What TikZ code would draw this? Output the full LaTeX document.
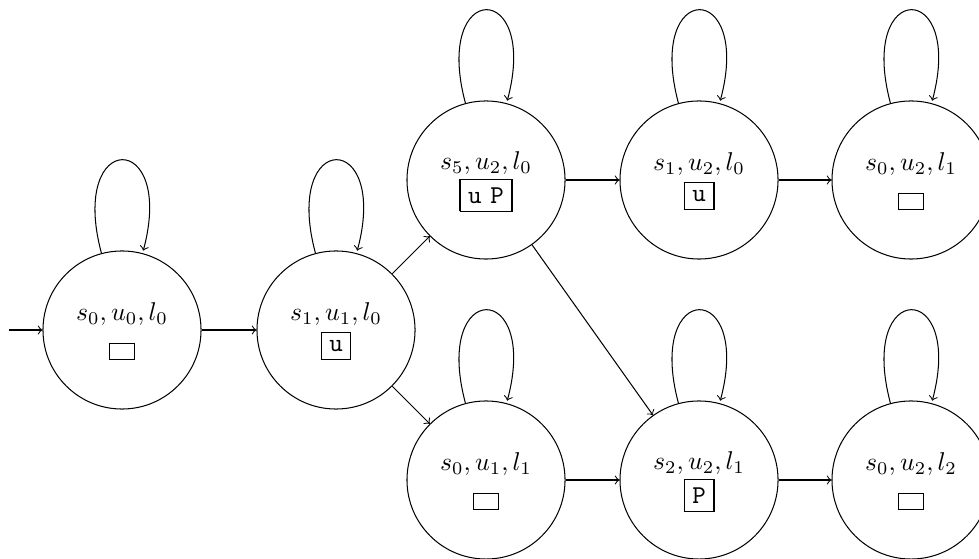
\documentclass[tikz,border=0pt]{standalone}
\begin{document}
\tikzset{
  statenode/.style={circle, draw, minimum size=61.5pt, inner sep=0pt},
  trans/.style={->},
}
\begin{tikzpicture}[x=0.3891pt, y=-0.3891pt]
\useasboundingbox (0,0) rectangle (979,559);
\clip (0,0) rectangle (979,559);
\node[statenode] (A) at (122,330) {\begin{tabular}{c}$s_0, u_0, l_0$\\\fbox{\ }\end{tabular}};
\node[statenode] (B) at (336,330) {\begin{tabular}{c}$s_1, u_1, l_0$\\\fbox{\texttt{u}}\end{tabular}};
\node[statenode] (C) at (486,180) {\begin{tabular}{c}$s_5, u_2, l_0$\\\fbox{\texttt{u} \texttt{P}}\end{tabular}};
\node[statenode] (D) at (699,180) {\begin{tabular}{c}$s_1, u_2, l_0$\\\fbox{\texttt{u}}\end{tabular}};
\node[statenode] (E) at (911,180) {\begin{tabular}{c}$s_0, u_2, l_1$\\\fbox{\ }\end{tabular}};
\node[statenode] (F) at (486,480) {\begin{tabular}{c}$s_0, u_1, l_1$\\\fbox{\ }\end{tabular}};
\node[statenode] (G) at (699,480) {\begin{tabular}{c}$s_2, u_2, l_1$\\\fbox{\texttt{P}}\end{tabular}};
\node[statenode] (H) at (911,480) {\begin{tabular}{c}$s_0, u_2, l_2$\\\fbox{\ }\end{tabular}};
\coordinate (start) at (9,330);
\draw[trans] (start) -- (A);
\draw[trans] (A) -- (B);
\draw[trans] (B) -- (C);
\draw[trans] (B) -- (F);
\draw[trans] (C) -- (D);
\draw[trans] (D) -- (E);
\draw[trans] (C) -- (G);
\draw[trans] (F) -- (G);
\draw[trans] (G) -- (H);
\foreach \n in {A,B,C,D,E,F,G,H}
  \draw[trans] (\n) edge[loop above] (\n);
\end{tikzpicture}
\end{document}
